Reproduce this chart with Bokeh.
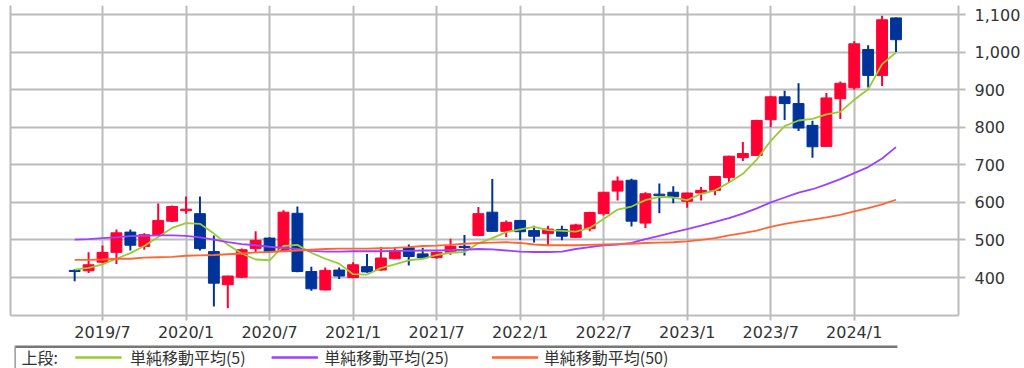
from bokeh.plotting import figure
from bokeh.models import ColumnDataSource, Range1d, FixedTicker, LinearAxis, NumeralTickFormatter
from bokeh.layouts import column
from bokeh.embed import file_html
from bokeh.resources import INLINE
from bokeh.core.properties import value

months = ["2019/5", "2019/6", "2019/7", "2019/8", "2019/9", "2019/10", "2019/11", "2019/12",
          "2020/1", "2020/2", "2020/3", "2020/4", "2020/5", "2020/6", "2020/7", "2020/8",
          "2020/9", "2020/10", "2020/11", "2020/12", "2021/1", "2021/2", "2021/3", "2021/4",
          "2021/5", "2021/6", "2021/7", "2021/8", "2021/9", "2021/10", "2021/11", "2021/12",
          "2022/1", "2022/2", "2022/3", "2022/4", "2022/5", "2022/6", "2022/7", "2022/8",
          "2022/9", "2022/10", "2022/11", "2022/12", "2023/1", "2023/2", "2023/3", "2023/4",
          "2023/5", "2023/6", "2023/7", "2023/8", "2023/9", "2023/10", "2023/11", "2023/12",
          "2024/1", "2024/2", "2024/3", "2024/4"]

open_ = [419, 418, 441, 467, 521, 483, 512, 550, 578, 570, 469, 381, 401, 477, 505, 470,
         571, 416, 367, 420, 400, 429, 420, 450, 479, 463, 453, 467, 483, 512, 574, 523,
         552, 525, 517, 528, 507, 530, 570, 630, 659, 545, 622, 627, 603, 625, 632, 666,
         719, 725, 820, 881, 863, 805, 749, 876, 905, 1007, 938, 1091]
high = [422, 467, 485, 528, 528, 518, 597, 592, 616, 616, 512, 405, 477, 523, 507, 579,
        589, 429, 427, 427, 441, 463, 481, 481, 488, 479, 469, 503, 513, 588, 662, 552,
        553, 538, 538, 538, 543, 575, 628, 669, 663, 627, 650, 643, 626, 641, 670, 724,
        761, 820, 884, 897, 917, 817, 891, 922, 1029, 1018, 1097, 1092]
low = [390, 412, 438, 436, 472, 474, 511, 548, 570, 472, 323, 318, 399, 467, 468, 469,
       414, 365, 366, 396, 398, 413, 418, 449, 432, 451, 450, 461, 459, 510, 522, 508,
       500, 493, 486, 499, 505, 523, 565, 605, 536, 532, 571, 598, 586, 605, 619, 652,
       710, 724, 800, 819, 790, 719, 748, 822, 900, 906, 910, 1000]
close = [416, 434, 467, 519, 486, 514, 552, 589, 582, 477, 385, 404, 474, 499, 470, 574,
         416, 370, 419, 404, 434, 415, 452, 472, 456, 453, 467, 483, 480, 570, 523, 547,
         522, 510, 529, 510, 540, 573, 627, 657, 550, 623, 618, 615, 625, 632, 669, 723,
         730, 818, 881, 863, 798, 748, 878, 917, 1022, 938, 1086, 1033]

sma5 = [421, 426, 435, 450, 465, 484, 508, 532, 545, 543, 517, 487, 464, 448, 446, 484,
        487, 466, 450, 437, 409, 408, 425, 435, 446, 450, 460, 466, 468, 491, 505, 521,
        528, 535, 526, 524, 522, 532, 556, 581, 589, 606, 615, 613, 606, 623, 632, 653,
        676, 714, 764, 803, 818, 822, 834, 841, 873, 901, 968, 999]
sma25 = [501, 502, 505, 507, 510, 511, 512, 512, 511, 507, 501, 494, 489, 486, 482, 479,
         476, 471, 469, 469, 470, 470, 470, 471, 471, 472, 472, 473, 474, 476, 475, 472,
         469, 468, 468, 469, 476, 481, 486, 488, 492, 502, 511, 520, 529, 538, 548, 558,
         570, 584, 600, 613, 626, 635, 648, 662, 678, 694, 717, 747]
sma50 = [447, 447, 448, 450, 450, 453, 454, 455, 458, 459, 460, 462, 464, 467, 468, 470,
         472, 474, 476, 477, 477, 477, 478, 479, 481, 484, 485, 487, 490, 492, 493, 494,
         492, 488, 486, 486, 486, 487, 488, 489, 490, 492, 493, 494, 496, 500, 505, 512,
         518, 525, 535, 543, 549, 554, 560, 567, 576, 585, 595, 607]

y_ticks = [400, 500, 600, 700, 800, 900, 1000, 1100]
legend_prefix = "上段:"
legend_labels = ["単純移動平均(5)", "単純移動平均(25)", "単純移動平均(50)"]

UP = "#ff0033"
DOWN = "#003399"
MA_COLORS = ["#99cc33", "#a040ff", "#ff6633"]
GRID = "#bbbbbb"
TEXT = "#333333"

xs = list(range(len(months)))
tick_idx = [i for i, m in enumerate(months) if m.endswith("/1") or m.endswith("/7")]

p = figure(width=1024, height=345, x_range=Range1d(-4.61, 63.49), y_range=Range1d(299, 1124),
           y_axis_location="right", output_backend="svg", toolbar_location=None,
           min_border_left=10, min_border_right=66, min_border_top=5, min_border_bottom=30)
p.outline_line_color = None
p.background_fill_color = "white"
p.border_fill_color = "white"

p.xgrid.ticker = FixedTicker(ticks=tick_idx)
p.ygrid.ticker = FixedTicker(ticks=y_ticks)
p.grid.grid_line_color = GRID
p.grid.grid_line_width = 2

xa = p.xaxis[0]
xa.ticker = FixedTicker(ticks=tick_idx)
xa.major_label_overrides = {i: months[i] for i in tick_idx}
xa.axis_line_color = GRID
xa.axis_line_width = 2
xa.major_tick_line_color = GRID
xa.major_tick_line_width = 2
xa.major_tick_out = 5
xa.major_tick_in = 0
xa.minor_tick_line_color = None
xa.major_label_text_font = "DejaVu Sans"
xa.major_label_text_font_size = "16px"
xa.major_label_text_color = TEXT
xa.major_label_standoff = 2

ya = p.yaxis[0]
ya.ticker = FixedTicker(ticks=y_ticks)
ya.formatter = NumeralTickFormatter(format="0,0")
ya.axis_line_color = GRID
ya.axis_line_width = 2
ya.major_tick_line_color = GRID
ya.major_tick_line_width = 2
ya.major_tick_out = 7
ya.major_tick_in = 0
ya.minor_tick_line_color = None
ya.major_label_text_font = "DejaVu Sans"
ya.major_label_text_font_size = "16px"
ya.major_label_text_color = TEXT
ya.major_label_standoff = 9

left_axis = LinearAxis(ticker=FixedTicker(ticks=[]), axis_line_color=GRID, axis_line_width=2,
                       major_tick_out=0, major_tick_in=0, minor_tick_line_color=None,
                       major_label_standoff=0, major_label_text_font_size="0px")
p.add_layout(left_axis, "left")

colors = [UP if c >= o else DOWN for o, c in zip(open_, close)]
src = ColumnDataSource(dict(
    x=xs, high=high, low=low,
    top=[max(o, c) for o, c in zip(open_, close)],
    bottom=[min(o, c) for o, c in zip(open_, close)],
    color=colors))

p.segment(x0="x", y0="high", x1="x", y1="low", source=src, line_color="color", line_width=2)
p.vbar(x="x", width=0.78, top="top", bottom="bottom", source=src,
       fill_color="color", line_color="color", line_width=1)

for series, col in zip([sma5, sma25, sma50], MA_COLORS):
    p.line(xs, series, line_color=col, line_width=1.8)

# legend strip
leg = figure(width=1024, height=23, x_range=Range1d(0, 1024), y_range=Range1d(0, 23),
             output_backend="svg", toolbar_location=None, x_axis_location=None,
             y_axis_location=None, min_border=0)
leg.outline_line_color = None
leg.grid.visible = False
leg.line([5, 958], [22, 22], line_color="#777777", line_width=3)
leg.line([5, 5], [0, 23], line_color="#999999", line_width=1.5)
leg.text(x=[12], y=[11.5], text=[legend_prefix], text_font=value("Noto Sans CJK JP"),
         text_font_size="16px", text_baseline="middle", text_color=TEXT)
line_x = [70, 282, 520]
text_x = [129, 339, 576]
for lx, tx, lab, col in zip(line_x, text_x, legend_labels, MA_COLORS):
    leg.line([lx, lx + 50], [11, 11], line_color=col, line_width=2.5)
    leg.text(x=[tx], y=[11.5], text=[lab], text_font=value("Noto Sans CJK JP"),
             text_font_size="16px", text_baseline="middle", text_color=TEXT)

layout = column(p, leg, spacing=0)
open("out.html", "w").write(file_html(layout, INLINE))
